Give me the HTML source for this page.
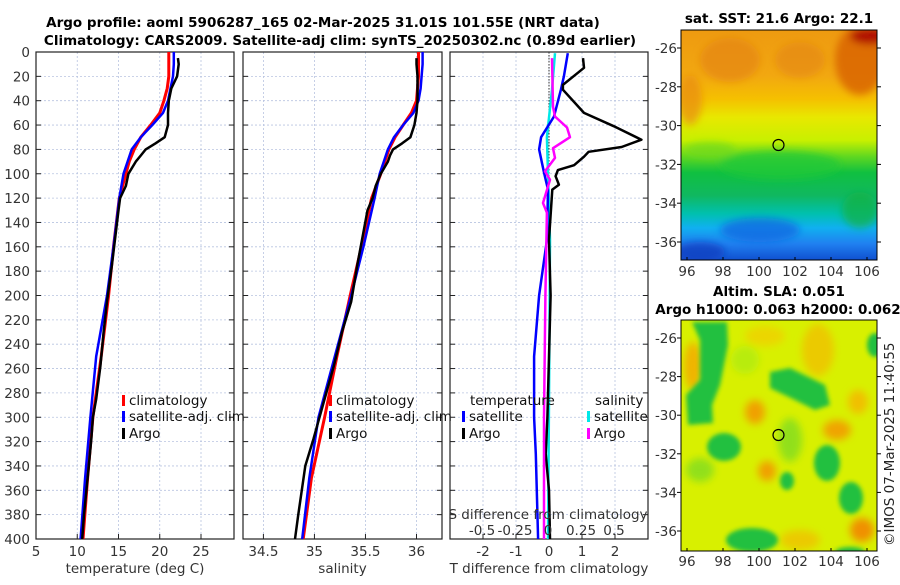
<!DOCTYPE html>
<html><head><meta charset="utf-8">
<style>
body{margin:0;background:#fff;}
svg text{font-family:"DejaVu Sans","Liberation Sans",sans-serif;}
</style></head>
<body>
<svg id="fig" xmlns="http://www.w3.org/2000/svg" width="900" height="580" viewBox="0 0 900 580">
<defs>
<filter id="bl" x="-30%" y="-30%" width="160%" height="160%"><feGaussianBlur stdDeviation="4"/></filter>
<filter id="bl2" x="-30%" y="-30%" width="160%" height="160%"><feGaussianBlur stdDeviation="2"/></filter>
<clipPath id="c1"><rect x="681" y="30" width="196" height="230"/></clipPath>
<clipPath id="c2"><rect x="681" y="320" width="196" height="231"/></clipPath>
<linearGradient id="sst" x1="0" y1="0" x2="0" y2="1">
<stop offset="0" stop-color="#ee9a10"/><stop offset="0.2" stop-color="#f2a810"/>
<stop offset="0.3" stop-color="#f5c000"/><stop offset="0.38" stop-color="#e8e800"/>
<stop offset="0.48" stop-color="#c8f000"/><stop offset="0.55" stop-color="#60d820"/>
<stop offset="0.62" stop-color="#10c040"/><stop offset="0.72" stop-color="#10b860"/>
<stop offset="0.8" stop-color="#00c0b0"/><stop offset="0.86" stop-color="#10b0f0"/>
<stop offset="0.93" stop-color="#2080f0"/><stop offset="1" stop-color="#1050d0"/>
</linearGradient>
</defs>
<g font-weight="bold" font-size="13.5" text-anchor="middle">
<text x="323" y="27">Argo profile: aoml 5906287_165 02-Mar-2025 31.01S 101.55E (NRT data)</text>
<text x="340" y="45">Climatology: CARS2009. Satellite-adj clim: synTS_20250302.nc (0.89d earlier)</text>
</g>
<g id="panels"></g>

<g>
<g clip-path="url(#c1)">
<rect x="681" y="30" width="196" height="230" fill="url(#sst)"/>
<g filter="url(#bl)">
<ellipse cx="860" cy="60" rx="25" ry="35" fill="#d86008" opacity="0.8"/>
<ellipse cx="870" cy="36" rx="20" ry="8" fill="#b01000"/>
<ellipse cx="730" cy="60" rx="30" ry="22" fill="#e28010" opacity="0.6"/>
<ellipse cx="800" cy="60" rx="25" ry="18" fill="#e28010" opacity="0.5"/>
<ellipse cx="690" cy="100" rx="12" ry="25" fill="#e88a10" opacity="0.7"/>
<ellipse cx="780" cy="165" rx="60" ry="14" fill="#20c838" opacity="0.8"/>
<ellipse cx="710" cy="150" rx="25" ry="8" fill="#70d820" opacity="0.7"/>
<ellipse cx="860" cy="210" rx="18" ry="18" fill="#10b040" opacity="0.7"/>
<ellipse cx="760" cy="230" rx="40" ry="12" fill="#1060e0" opacity="0.7"/>
<ellipse cx="700" cy="252" rx="25" ry="10" fill="#1040c0" opacity="0.8"/>
</g>
</g>
<rect x="681" y="30" width="196" height="230" fill="none" stroke="#000" stroke-width="1"/>
<circle cx="778.5" cy="145" r="5.5" fill="none" stroke="#000" stroke-width="1.2"/>
<text x="779" y="23" font-size="13.5" font-weight="bold" text-anchor="middle">sat. SST: 21.6 Argo: 22.1</text>
</g>

<g>
<g clip-path="url(#c2)">
<rect x="681" y="320" width="196" height="231" fill="#d8f000"/>
<g filter="url(#bl)">
<ellipse cx="693" cy="366" rx="9" ry="24" fill="#f0b400"/>
<ellipse cx="755" cy="412" rx="10" ry="12" fill="#f0a000"/>
<ellipse cx="767" cy="471" rx="9" ry="10" fill="#f0a000"/>
<ellipse cx="837" cy="430" rx="14" ry="10" fill="#f0a400"/>
<ellipse cx="862" cy="530" rx="12" ry="12" fill="#f09000"/>
<ellipse cx="818" cy="350" rx="16" ry="26" fill="#f0c000" opacity="0.8"/>
<ellipse cx="858" cy="402" rx="10" ry="12" fill="#f0c000"/>
<ellipse cx="765" cy="336" rx="20" ry="10" fill="#f0d000" opacity="0.8"/>
<ellipse cx="800" cy="540" rx="20" ry="10" fill="#f0c000" opacity="0.8"/>
<ellipse cx="745" cy="360" rx="14" ry="14" fill="#b8ec10"/>
</g>
<g filter="url(#bl2)" fill="#20c040">
<path d="M692 322 L727 322 L728 345 L720 385 L712 405 L713 423 L688 425 L686 395 L700 380 L700 340 Z"/>
<ellipse cx="724" cy="447" rx="17" ry="14"/>
<path d="M770 372 L790 368 L825 385 L830 405 L815 410 L795 400 L770 388 Z"/>
<ellipse cx="827" cy="463" rx="13" ry="18"/>
<ellipse cx="851" cy="498" rx="12" ry="16"/>
<ellipse cx="787" cy="481" rx="7" ry="9"/>
<ellipse cx="752" cy="540" rx="26" ry="12"/>
<ellipse cx="875" cy="345" rx="8" ry="12"/>
<ellipse cx="850" cy="552" rx="15" ry="5"/>
</g>
<g filter="url(#bl)" fill="#80dc20" opacity="0.8">
<ellipse cx="790" cy="440" rx="12" ry="22"/>
<ellipse cx="700" cy="470" rx="14" ry="12"/>
</g>
</g>
<rect x="681" y="320" width="196" height="231" fill="none" stroke="#000" stroke-width="1"/>
<circle cx="778.5" cy="435" r="5.5" fill="none" stroke="#000" stroke-width="1.2"/>
<text x="779" y="296" font-size="13.5" font-weight="bold" text-anchor="middle">Altim. SLA: 0.051</text>
<text x="778" y="314" font-size="13.5" font-weight="bold" text-anchor="middle">Argo h1000: 0.063 h2000: 0.062</text>
</g>
<text transform="translate(894,546) rotate(-90)" font-size="13.5" fill="#222">©IMOS 07-Mar-2025 11:40:55</text>
<g id="maps-axes"></g>
</svg>
<script>
const climDepth=[0,10,20,30,40,50,60,70,80,90,100,120,160,200,250,300,350,400];
const climT=[21.1,21.1,21.1,20.9,20.5,20.0,18.9,17.7,16.9,16.3,15.9,15.1,14.4,13.8,12.9,11.9,11.25,10.7];
const satT=[21.7,21.7,21.6,21.3,21.0,20.4,19.1,17.7,16.6,16.1,15.6,15.1,14.4,13.6,12.3,11.6,10.95,10.4];
const climS=[36.02,36.02,36.02,36.01,36.0,35.95,35.87,35.79,35.73,35.69,35.65,35.56,35.46,35.35,35.22,35.1,34.97,34.89];
const satS=[36.06,36.06,36.05,36.04,36.02,35.97,35.87,35.78,35.72,35.68,35.64,35.59,35.48,35.36,35.2,35.04,34.95,34.88];
const argoDepth=[5,10,20,30,40,50,60,70,75,80,85,90,100,110,120,130,175,205,230,258,285,300,318,340,381,400];
const argoT=[22.2,22.3,22.1,21.4,21.1,21.0,21.0,20.6,19.5,18.3,17.7,17.1,16.2,15.9,15.2,15.0,14.2,13.6,13.2,12.8,12.3,11.9,11.7,11.4,10.8,10.6];
const argoS=[36.0,36.0,36.01,36.01,36.01,36.0,35.98,35.94,35.86,35.77,35.74,35.72,35.65,35.6,35.57,35.52,35.42,35.36,35.27,35.19,35.1,35.05,34.99,34.91,34.84,34.81];
const dTArgoDepth=[5,13,17,27,31,50,61,72,78,82,86,93,97,102,109,113,154,200,250,300,330,360,400];
const dTArgo=[1.03,1.06,0.88,0.42,0.42,1.06,1.97,2.8,2.2,1.2,1.06,0.76,0.27,0.2,0.3,0.1,0.0,0.05,0.0,-0.05,-0.1,0.0,0.03];
const dTSatDepth=[1,20,31,53,70,80,99,113,154,200,250,300,330,400];
const dTSat=[0.57,0.45,0.36,0.15,-0.24,-0.3,-0.15,-0.03,-0.06,-0.3,-0.45,-0.45,-0.4,-0.33];
const dSArgoDepth=[5,45,53,62,70,79,87,98,105,124,132,200,300,400];
const dSArgo=[0.03,0.038,0.053,0.144,0.167,0.038,0.053,-0.023,0.015,-0.038,-0.008,-0.02,-0.03,-0.03];
const dSSatDepth=[1,31,70,154,250,400];
const dSSat=[0.053,0.03,-0.008,0.015,0.01,0.0];
const depthTicks=[0,20,40,60,80,100,120,140,160,180,200,220,240,260,280,300,320,340,360,380,400];
const tTicks=[5,10,15,20,25];
const sTicks=[34.5,35,35.5,36];
const dTTicks=[-2,-1,0,1,2];
const dSTicks=[-0.5,-0.25,0,0.25,0.5];
const dSTickLabels=['-0.5','-0.25','0','0.25','0.5'];
const lonTicks=[96,98,100,102,104,106];
const latTicks=[-26,-28,-30,-32,-34,-36];

const NS='http://www.w3.org/2000/svg';
const Y0=52,Y1=539;
const yD=d=>Y0+(d/400)*(Y1-Y0);
const FS=13.5;
function mk(tag,attrs,parent){const e=document.createElementNS(NS,tag);for(const k in attrs)e.setAttribute(k,attrs[k]);parent.appendChild(e);return e;}
const panels=document.getElementById('panels');
function lin(d0,d1,r0,r1){return v=>r0+(v-d0)/(d1-d0)*(r1-r0);}
const P=[
 {name:'temperature-panel',x0:36,x1:234,sc:lin(5,29,36,234),ticks:tTicks,lab:'temperature (deg C)'},
 {name:'salinity-panel',x0:243,x1:442,sc:lin(34.3,36.25,243,442),ticks:sTicks,lab:'salinity'},
 {name:'difference-panel',x0:450,x1:648,sc:lin(-3,3,450,648),ticks:dTTicks,lab:'T difference from climatology'}
];
const sDiff=lin(-0.75,0.75,449,647);
function line(xs,ds,sc,color,g,name,w){
 const pts=xs.map((v,i)=>sc(v).toFixed(1)+','+yD(ds[i]).toFixed(1)).join(' ');
 const pl=mk('polyline',{points:pts,fill:'none',stroke:color,'stroke-width':w||2.5,'stroke-linejoin':'round'},g);
 
 
}
P.forEach((p,pi)=>{
 const g=mk('g',{},panels);
 
 
 const grid=mk('g',{stroke:'#b8c4e0','stroke-width':0.8,'stroke-dasharray':'2,2'},g);
 
 
 depthTicks.forEach(d=>{if(d>0&&d<400)mk('line',{x1:p.x0,x2:p.x1,y1:yD(d),y2:yD(d)},grid);});
 p.ticks.forEach(t=>{mk('line',{x1:p.sc(t),x2:p.sc(t),y1:Y0,y2:Y1},grid);});
 const tk=mk('g',{stroke:'#222','stroke-width':1},g);
 depthTicks.forEach(d=>{mk('line',{x1:p.x0,x2:p.x0+5,y1:yD(d),y2:yD(d)},tk);mk('line',{x1:p.x1-5,x2:p.x1,y1:yD(d),y2:yD(d)},tk);});
 p.ticks.forEach(t=>{mk('line',{x1:p.sc(t),x2:p.sc(t),y1:Y1,y2:Y1-5},tk);});
 mk('rect',{x:p.x0,y:Y0,width:p.x1-p.x0,height:Y1-Y0,fill:'none',stroke:'#222','stroke-width':1.2},g);
 p.ticks.forEach(t=>{const e=mk('text',{x:p.sc(t),y:556,'font-size':FS,'text-anchor':'middle',fill:'#333'},g);e.textContent=String(t);
  });
 const xl=mk('text',{x:(p.x0+p.x1)/2,y:573,'font-size':FS,'text-anchor':'middle',fill:'#333'},g);xl.textContent=p.lab;
 
 if(pi===0){depthTicks.forEach(d=>{const e=mk('text',{x:30,y:yD(d)+5,'font-size':FS,'text-anchor':'end',fill:'#333'},g);e.textContent=String(d);
  });}
 p.g=g;
});
line(climT,climDepth,P[0].sc,'#ff0000',P[0].g,'climatology-temperature-line',3);
line(satT,climDepth,P[0].sc,'#0000ff',P[0].g,'satellite-temperature-line',2.5);
line(argoT,argoDepth,P[0].sc,'#000',P[0].g,'argo-temperature-line',2.5);
line(climS,climDepth,P[1].sc,'#ff0000',P[1].g,'climatology-salinity-line',3);
line(satS,climDepth,P[1].sc,'#0000ff',P[1].g,'satellite-salinity-line',2.5);
line(argoS,argoDepth,P[1].sc,'#000',P[1].g,'argo-salinity-line',2.5);
const zl=mk('line',{x1:P[2].sc(0),x2:P[2].sc(0),y1:Y0,y2:Y1,stroke:'#333','stroke-width':1,'stroke-dasharray':'1.5,1.5'},P[2].g);

line(dSSat,dSSatDepth,sDiff,'#00e8e8',P[2].g,'satellite-salinity-difference-line',2.5);
line(dTSat,dTSatDepth,P[2].sc,'#0000ff',P[2].g,'satellite-temperature-difference-line',2.5);
line(dTArgo,dTArgoDepth,P[2].sc,'#000',P[2].g,'argo-temperature-difference-line',2.5);
line(dSArgo,dSArgoDepth,sDiff,'#ff00ff',P[2].g,'argo-salinity-difference-line',2.5);
dSTicks.forEach((t,i)=>{const e=mk('text',{x:sDiff(t),y:535,'font-size':FS,'text-anchor':'middle',fill:'#333'},P[2].g);e.textContent=dSTickLabels[i];
 });
const st=mk('text',{x:548,y:519,'font-size':FS,'text-anchor':'middle',fill:'#333'},P[2].g);st.textContent='S difference from climatology';

function legend(g,x,y,color,label,name){
 const lg=mk('g',{},g);
 
 
 if(color)mk('rect',{x:x,y:y-10,width:3,height:11,fill:color},lg);
 const t=mk('text',{x:x+7,y:y,'font-size':FS,fill:'#111'},lg);t.textContent=label;
}
legend(P[0].g,122,405,'#ff0000','climatology','legend-climatology');
legend(P[0].g,122,421,'#0000ff','satellite-adj. clim','legend-satellite-adj');
legend(P[0].g,122,438,'#000','Argo','legend-argo');
legend(P[1].g,329,405,'#ff0000','climatology','legend-climatology');
legend(P[1].g,329,421,'#0000ff','satellite-adj. clim','legend-satellite-adj');
legend(P[1].g,329,438,'#000','Argo','legend-argo');
const lt=mk('text',{x:470,y:405,'font-size':FS,fill:'#111'},P[2].g);lt.textContent='temperature';

const ls=mk('text',{x:595,y:405,'font-size':FS,fill:'#111'},P[2].g);ls.textContent='salinity';

legend(P[2].g,462,421,'#0000ff','satellite','legend-temperature-satellite');
legend(P[2].g,462,438,'#000','Argo','legend-temperature-argo');
legend(P[2].g,587,421,'#00e8e8','satellite','legend-salinity-satellite');
legend(P[2].g,587,438,'#ff00ff','Argo','legend-salinity-argo');
const ma=document.getElementById('maps-axes');
const lonX=lin(96,106,687,867);
[[30,260,48,242,276],[320,551,338,531,566]].forEach((m,mi)=>{
 const latY=lin(-26,-36,m[2],m[3]);
 const g=mk('g',{},ma);
 
 
 lonTicks.forEach(l=>{const x=lonX(l);mk('line',{x1:x,x2:x,y1:m[1],y2:m[1]-3,stroke:'#000'},g);
  const t=mk('text',{x:x,y:m[4],'font-size':FS,'text-anchor':'middle',fill:'#333'},g);t.textContent=String(l);
  });
 latTicks.forEach(l=>{const y=latY(l);mk('line',{x1:877,x2:881,y1:y,y2:y,stroke:'#000'},g);mk('line',{x1:681,x2:677,y1:y,y2:y,stroke:'#000'},g);
  const t=mk('text',{x:677,y:y+5,'font-size':FS,'text-anchor':'end',fill:'#333'},g);t.textContent=String(l);
  });
});
</script>
</body></html>
